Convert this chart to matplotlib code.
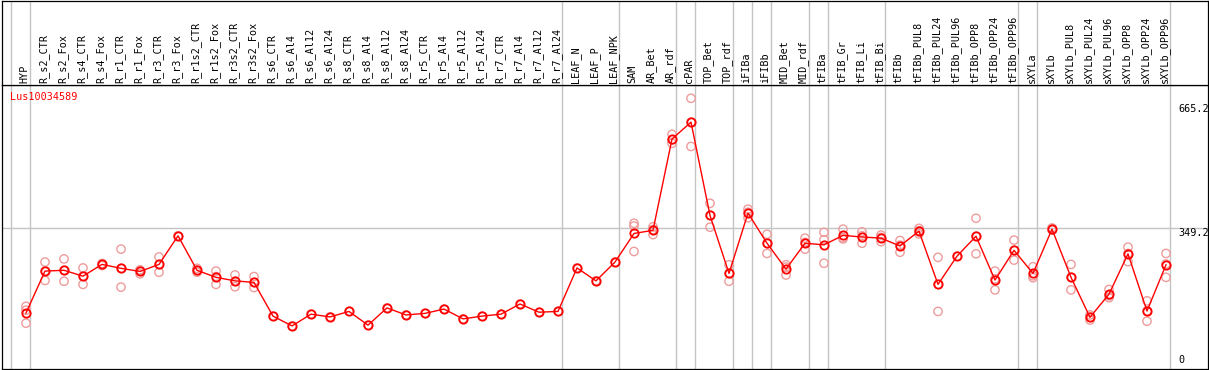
import numpy as np
import matplotlib
matplotlib.use("Agg")
import matplotlib.pyplot as plt

# sample names along the top
samples = [
    "HYP",
    "R_s2_CTR", "R_s2_Fox", "R_s4_CTR", "R_s4_Fox", "R_r1_CTR", "R_r1_Fox",
    "R_r3_CTR", "R_r3_Fox", "R_r1s2_CTR", "R_r1s2_Fox", "R_r3s2_CTR", "R_r3s2_Fox",
    "R_s6_CTR", "R_s6_Al4", "R_s6_Al12", "R_s6_Al24", "R_s8_CTR", "R_s8_Al4",
    "R_s8_Al12", "R_s8_Al24", "R_r5_CTR", "R_r5_Al4", "R_r5_Al12", "R_r5_Al24",
    "R_r7_CTR", "R_r7_Al4", "R_r7_Al12", "R_r7_Al24",
    "LEAF_N", "LEAF_P", "LEAF_NPK",
    "SAM", "AR_Bet", "AR_rdf",
    "cPAR",
    "TOP_Bet", "TOP_rdf",
    "iFIBa",
    "iFIBb",
    "MID_Bet", "MID_rdf",
    "tFIBa",
    "tFIB_Gr", "tFIB_Li", "tFIB_Bi",
    "tFIBb", "tFIBb_PUL8", "tFIBb_PUL24", "tFIBb_PUL96", "tFIBb_OPP8",
    "tFIBb_OPP24", "tFIBb_OPP96",
    "sXYLa",
    "sXYLb", "sXYLb_PUL8", "sXYLb_PUL24", "sXYLb_PUL96", "sXYLb_OPP8",
    "sXYLb_OPP24", "sXYLb_OPP96",
]

# sizes of the tissue groups (separated by grey lines)
group_sizes = [1, 28, 3, 3, 1, 2, 1, 1, 2, 1, 3, 7, 1, 7]

# mean expression per sample
means = [
    133,
    240, 242, 227, 257, 247, 239, 257, 330, 242, 224, 215, 211,
    125, 100, 130, 123, 137, 102, 146, 128, 132, 143, 118, 125,
    130, 156, 135, 137,
    248, 215, 263,
    336, 344, 577,
    620,
    382, 234,
    388,
    311,
    245, 311,
    307,
    331, 327, 324,
    304, 342, 206, 278, 329, 217, 293,
    234,
    347, 224, 122, 181, 284, 138, 256,
]

# individual replicates
replicates = [
    [150, 140, 107],
    [263, 240, 216], [271, 242, 214], [248, 227, 206], [259, 254, 258],
    [296, 247, 199], [242, 243, 233], [276, 257, 237], [330],
    [247, 242, 237], [240, 226, 206], [230, 214, 200], [226, 211, 198],
    [125], [100], [130], [123], [137], [102], [146], [128],
    [132], [143], [118], [125], [130], [156], [135], [137],
    [248], [215], [263],
    [362, 355, 290], [353, 346, 333], [589, 575, 566],
    [681, 620, 558],
    [413, 382, 352], [256, 234, 214],
    [398, 390, 376],
    [334, 311, 285],
    [256, 250, 230], [324, 313, 296],
    [339, 320, 260],
    [347, 325, 322], [340, 330, 311], [332, 326, 315],
    [318, 306, 288], [349, 343, 335], [275, 206, 137], [278],
    [375, 329, 284], [240, 220, 192], [319, 293, 268],
    [251, 228, 223],
    [350, 347, 345], [257, 224, 192], [128, 122, 115], [193, 177, 172],
    [301, 285, 264], [164, 138, 112], [285, 258, 224],
]

gene = "Lus10034589"
y_marks = [665.2, 349.2, 0]

W, H = 1209, 370
fig = plt.figure(figsize=(W / 100, H / 100), dpi=100)
mono = "DejaVu Sans Mono"
fsize = 7.3

# plot area: pixels x 2..1208, y 85..369
ax = fig.add_axes([2 / W, 1 / H, 1206 / W, 284 / H])
ax_lab = fig.add_axes([2 / W, 285 / H, 1206 / W, 84.5 / H], sharex=ax)

x = np.arange(len(samples))
ax.set_xlim(-24 / 19, 1182 / 19)
ax.set_ylim(-9.95, 714.9)
ax_lab.set_ylim(0, 1)

for a in (ax, ax_lab):
    a.set_xticks([])
    a.set_yticks([])
    for s in a.spines.values():
        s.set_color("black")
        s.set_linewidth(0.9)

# group separators
bounds = np.concatenate([[0], np.cumsum(group_sizes)]) - 1 + 0.2
for b in bounds:
    ax.axvline(b, color="#c4c4c4", lw=1.0, zorder=0)
    ax_lab.axvline(b, color="#c4c4c4", lw=1.0, zorder=0)

ax.axhline(349.2, color="#c4c4c4", lw=1.0, zorder=0)

# replicates
rx = [i for i, r in enumerate(replicates) for _ in r]
ry = [v for r in replicates for v in r]
ax.scatter(rx, ry, s=36, facecolors="none", edgecolors="#ee9c9c",
           linewidths=1.0, zorder=2)

# mean line
ax.plot(x, means, color="red", lw=1.0, marker="o", markersize=6.0,
        markerfacecolor="none", markeredgecolor="red", markeredgewidth=1.3,
        zorder=3)

# labels
for i, name in enumerate(samples):
    ax_lab.text(i - 0.08, 0.025, name, rotation=90, ha="center", va="bottom",
                family=mono, fontsize=fsize, color="black")

ax.text(8 / 1206, 0.975, gene, transform=ax.transAxes, ha="left", va="top",
        family=mono, fontsize=fsize, color="red")

lx = len(samples) - 1 + 12 / 19
for v in y_marks:
    ax.text(lx, v, f"{v:g}" if v == 0 else f"{v}", ha="left",
            va="bottom" if v == 0 else "top",
            family=mono, fontsize=fsize, color="black")

fig.savefig("out.png", dpi=100)
